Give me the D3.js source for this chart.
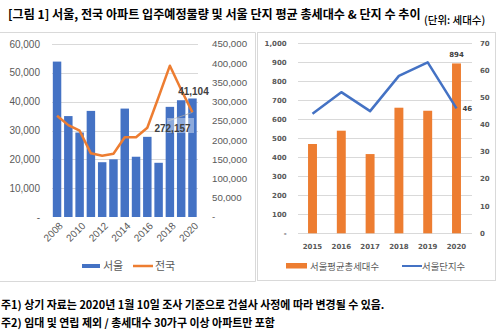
<!DOCTYPE html>
<html><head><meta charset="utf-8">
<script src="https://cdn.jsdelivr.net/npm/d3@7"></script>
<style>
body{margin:0;background:#fff;}
svg{display:block;}
</style></head>
<body>
<svg id="c" width="500" height="333"></svg>
<script>
// ---- data ----
const yearsL = [2008,2009,2010,2011,2012,2013,2014,2015,2016,2017,2018,2019,2020];
const seoulSupply = [53900,35000,29300,36800,19000,20000,37600,20900,27800,18800,38200,40500,41104];
const nationSupply = [263500,239000,224500,165600,159500,164700,207500,207500,232300,312000,393600,331000,272157];
const xTickLabelsL = [2008,2010,2012,2014,2016,2018,2020];
const yTicksL = [0,10000,20000,30000,40000,50000,60000];
const yTicksLR = [0,50000,100000,150000,200000,250000,300000,350000,400000,450000];

const yearsR = [2015,2016,2017,2018,2019,2020];
const avgHouseholds = [470,540,417,661,645,894];
const complexCount = [44,52,45,58,63,46];
const yTicksR = [0,100,200,300,400,500,600,700,800,900,1000];
const yTicksRR = [0,10,20,30,40,50,60,70];

const BLUE = "#4472C4", ORANGE = "#ED7D31", GRID = "#d9d9d9", TXT = "#595959";
const svg = d3.select("#c");
const fmt = d3.format(",");
const KR = "'Noto Sans CJK KR','Noto Sans',sans-serif";

// ---- title ----
svg.append("text").attr("x",8).attr("y",19).attr("font-family",KR).attr("font-weight",700)
  .attr("font-size",12.1).attr("fill","#000")
  .text("[그림 1] 서울, 전국 아파트 입주예정물량 및 서울 단지 평균 총세대수 & 단지 수 추이");
svg.append("text").attr("x",424).attr("y",24).attr("font-family",KR).attr("font-weight",500)
  .attr("font-size",10.5).attr("fill","#000").text("(단위: 세대수)");

// ---- panels ----
svg.append("path").attr("d","M0,32.5H255.5V281.5H0").attr("fill","none").attr("stroke","#d9d9d9");
svg.append("rect").attr("x",257.5).attr("y",32.5).attr("width",238).attr("height",248)
  .attr("fill","none").attr("stroke","#d9d9d9");

// ---- left chart ----
const xL = d3.scaleBand().domain(yearsL).range([51.4,198.1]).paddingInner(0.25).paddingOuter(0.125);
const yL = d3.scaleLinear().domain([0,60000]).range([217,44]);
const yLR = d3.scaleLinear().domain([0,450000]).range([217,44]);

const gL = svg.append("g");
gL.selectAll("line.grid").data(yTicksL.filter(d=>d>0)).join("line")
  .attr("x1",52).attr("x2",198).attr("y1",d=>Math.round(yL(d))+0.5).attr("y2",d=>Math.round(yL(d))+0.5)
  .attr("stroke",GRID).attr("stroke-width",1);

gL.selectAll("rect.bar").data(yearsL).join("rect")
  .attr("x",d=>xL(d)).attr("width",xL.bandwidth())
  .attr("y",(d,i)=>yL(seoulSupply[i])).attr("height",(d,i)=>yL(0)-yL(seoulSupply[i]))
  .attr("fill",BLUE);

const lineL = d3.line().x((d,i)=>xL(yearsL[i])+xL.bandwidth()/2).y(d=>yLR(d));
gL.append("path").datum(nationSupply).attr("d",lineL).attr("fill","none")
  .attr("stroke",ORANGE).attr("stroke-width",2.5).attr("stroke-linejoin","round");

// left axis labels
gL.selectAll("text.yl").data(yTicksL).join("text")
  .attr("x",40).attr("y",d=>yL(d)).attr("dy","0.35em").attr("text-anchor","end")
  .attr("font-family","'Liberation Sans',Arial,sans-serif").attr("font-size",10).attr("fill",TXT)
  .text(d=>d===0?"-":fmt(d));
gL.selectAll("text.yr").data(yTicksLR).join("text")
  .attr("x",212).attr("y",d=>yLR(d)).attr("dy","0.35em").attr("text-anchor","start")
  .attr("font-family","'Liberation Sans',Arial,sans-serif").attr("font-size",9.7).attr("fill",TXT)
  .text(d=>d===0?"-":fmt(d));
// x labels rotated
gL.selectAll("text.xl").data(xTickLabelsL).join("text")
  .attr("transform",d=>`translate(${xL(d)+xL.bandwidth()/2+4},${224}) rotate(-45)`)
  .attr("text-anchor","end").attr("dy","0.35em")
  .attr("font-family","'Liberation Sans',Arial,sans-serif").attr("font-size",10).attr("fill",TXT)
  .text(d=>d);

// data labels
const lastI = yearsL.length-1;
const lx = xL(yearsL[lastI])+xL.bandwidth()/2;
gL.append("text").attr("x",lx+1).attr("y",yL(seoulSupply[lastI])-3.5).attr("text-anchor","middle")
  .attr("font-family","'Liberation Sans',Arial,sans-serif").attr("font-weight",700).attr("font-size",10)
  .attr("fill","#404040").text(fmt(seoulSupply[lastI]));
gL.append("line").attr("x1",168).attr("y1",121).attr("x2",lx).attr("y2",yLR(nationSupply[lastI]))
  .attr("stroke","#a6a6a6").attr("stroke-width",0.8);
gL.append("rect").attr("x",167).attr("y",118).attr("width",27).attr("height",15)
  .attr("fill","#fff").attr("opacity",0.4);
gL.append("text").attr("x",172.5).attr("y",131.5).attr("text-anchor","middle")
  .attr("font-family","'Liberation Sans',Arial,sans-serif").attr("font-weight",700).attr("font-size",10)
  .attr("fill","#404040").text(fmt(nationSupply[lastI]));

// left legend
gL.append("rect").attr("x",82).attr("y",264).attr("width",18).attr("height",4).attr("fill",BLUE);
gL.append("text").attr("x",103).attr("y",270).attr("font-family",KR).attr("font-size",11).attr("fill",TXT).text("서울");
gL.append("line").attr("x1",133).attr("x2",153).attr("y1",266).attr("y2",266).attr("stroke",ORANGE).attr("stroke-width",2.5);
gL.append("text").attr("x",155).attr("y",270).attr("font-family",KR).attr("font-size",11).attr("fill",TXT).text("전국");

// ---- right chart ----
const xR = d3.scaleBand().domain(yearsR).range([298.1,470.9]).paddingInner(0.69).paddingOuter(0.345);
const yR = d3.scaleLinear().domain([0,1000]).range([233.3,43.3]);
const yRR = d3.scaleLinear().domain([0,70]).range([233.3,43.3]);
const gR = svg.append("g");
gR.selectAll("line.grid").data(yTicksR).join("line")
  .attr("x1",298).attr("x2",472).attr("y1",d=>Math.round(yR(d))+0.5).attr("y2",d=>Math.round(yR(d))+0.5)
  .attr("stroke",GRID).attr("stroke-width",1);
gR.selectAll("rect.bar").data(yearsR).join("rect")
  .attr("x",d=>xR(d)).attr("width",xR.bandwidth())
  .attr("y",(d,i)=>yR(avgHouseholds[i])).attr("height",(d,i)=>yR(0)-yR(avgHouseholds[i]))
  .attr("fill",ORANGE);
const lineR = d3.line().x((d,i)=>xR(yearsR[i])+xR.bandwidth()/2).y(d=>yRR(d));
gR.append("path").datum(complexCount).attr("d",lineR).attr("fill","none")
  .attr("stroke",BLUE).attr("stroke-width",2.5).attr("stroke-linejoin","round");

const SMALL = "'DejaVu Sans',sans-serif";
gR.selectAll("text.yl").data(yTicksR).join("text")
  .attr("x",286.7).attr("y",d=>yR(d)).attr("dy","0.35em").attr("text-anchor","end")
  .attr("font-family",SMALL).attr("font-weight",700).attr("font-size",7).attr("fill",TXT)
  .text(d=>d===0?"-":fmt(d));
gR.selectAll("text.yr").data(yTicksRR).join("text")
  .attr("x",480).attr("y",d=>yRR(d)).attr("dy","0.35em").attr("text-anchor","start")
  .attr("font-family",SMALL).attr("font-weight",700).attr("font-size",7).attr("fill",TXT)
  .text(d=>d);
gR.selectAll("text.xl").data(yearsR).join("text")
  .attr("x",d=>xR(d)+xR.bandwidth()/2).attr("y",248.5).attr("text-anchor","middle")
  .attr("font-family",SMALL).attr("font-weight",700).attr("font-size",7).attr("fill",TXT)
  .text(d=>d);
const li = yearsR.length-1;
const rx = xR(yearsR[li])+xR.bandwidth()/2;
gR.append("text").attr("x",rx).attr("y",yR(avgHouseholds[li])-6).attr("text-anchor","middle")
  .attr("font-family",SMALL).attr("font-weight",700).attr("font-size",7).attr("fill","#404040")
  .text(avgHouseholds[li]);
gR.append("text").attr("x",rx+6).attr("y",yRR(complexCount[li])).attr("dy","0.35em")
  .attr("font-family",SMALL).attr("font-weight",700).attr("font-size",7).attr("fill","#404040")
  .text(complexCount[li]);
// right legend
gR.append("rect").attr("x",286).attr("y",263).attr("width",21).attr("height",5.5).attr("fill",ORANGE);
gR.append("text").attr("x",310).attr("y",270).attr("font-family",KR).attr("font-size",9.4).attr("fill",TXT).text("서울평균총세대수");
gR.append("line").attr("x1",402).attr("x2",422).attr("y1",266).attr("y2",266).attr("stroke",BLUE).attr("stroke-width",2);
gR.append("text").attr("x",422).attr("y",270).attr("font-family",KR).attr("font-size",9.4).attr("fill",TXT).text("서울단지수");

// ---- footnotes ----
svg.append("text").attr("x",1).attr("y",309).attr("font-family",KR).attr("font-weight",700)
  .attr("font-size",10.95).attr("fill","#000")
  .text("주1) 상기 자료는 2020년 1월 10일 조사 기준으로 건설사 사정에 따라 변경될 수 있음.");
svg.append("text").attr("x",1).attr("y",327).attr("font-family",KR).attr("font-weight",700)
  .attr("font-size",10.95).attr("fill","#000")
  .text("주2) 임대 및 연립 제외 / 총세대수 30가구 이상 아파트만 포함");
</script>
</body></html>
